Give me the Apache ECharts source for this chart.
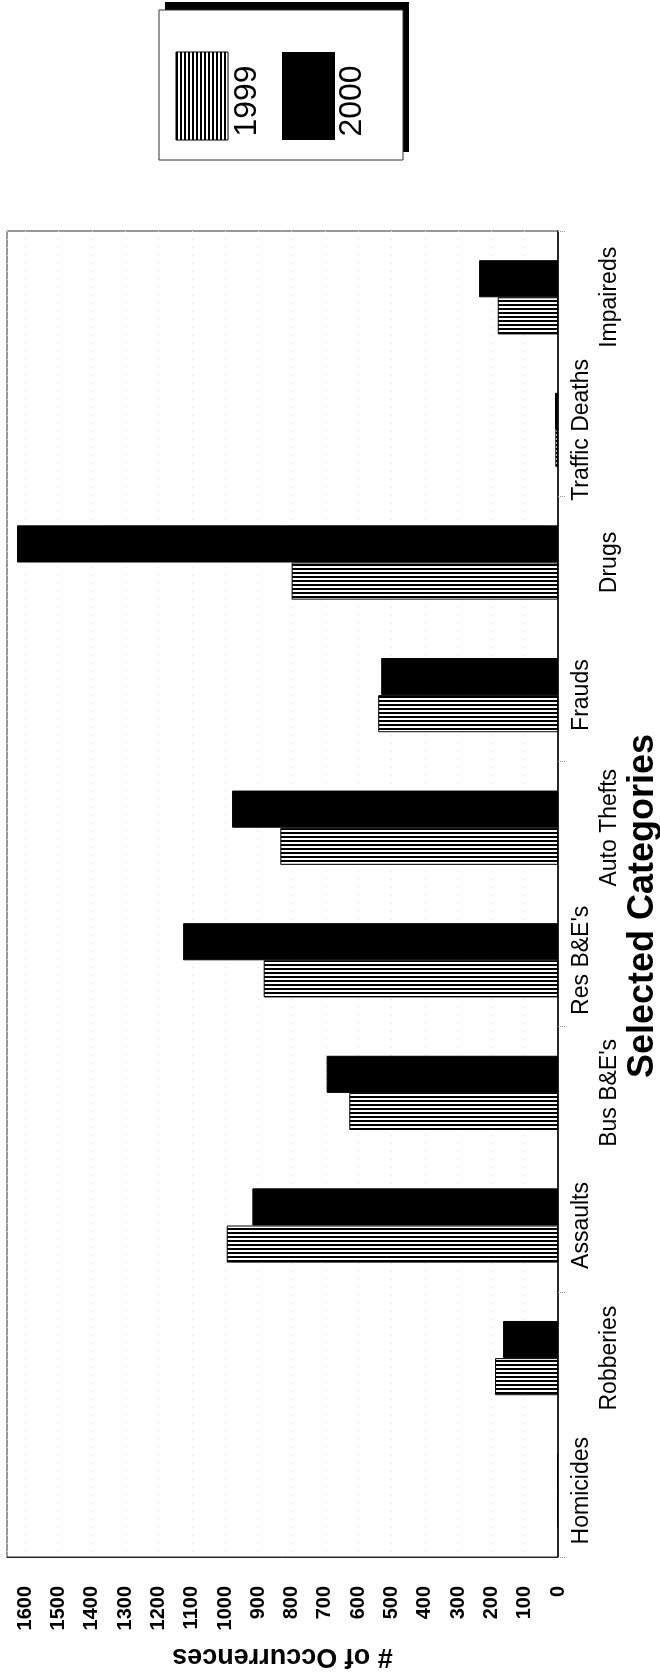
<!DOCTYPE html>
<html>
<head>
<meta charset="utf-8">
<script src="https://cdn.jsdelivr.net/npm/echarts@6/dist/echarts.min.js"></script>
<style>
html,body{margin:0;padding:0;background:#fff;}
#chart{width:660px;height:1674px;}
</style>
</head>
<body>
<div id="chart"></div>
<script>
var categories = ['Homicides', 'Robberies', 'Assaults', "Bus B&E's", "Res B&E's", 'Auto Thefts', 'Frauds', 'Drugs', 'Traffic Deaths', 'Impaireds'];
var seriesNames = ['1999', '2000'];
var values1999 = [3, 189, 995, 627, 884, 834, 540, 800, 8, 181];
var values2000 = [3, 165, 918, 695, 1126, 979, 531, 1625, 9, 237];
var valueTicks = [0, 100, 200, 300, 400, 500, 600, 700, 800, 900, 1000, 1100, 1200, 1300, 1400, 1500, 1600];

function stripes(vertical) {
  var c = document.createElement('canvas');
  c.width = 4; c.height = 4;
  var g = c.getContext('2d');
  g.fillStyle = '#fff'; g.fillRect(0, 0, 4, 4);
  g.fillStyle = '#000';
  if (vertical) g.fillRect(0, 0, 2, 4); else g.fillRect(0, 0, 4, 2);
  return c;
}
var hStripe = { image: stripes(false), repeat: 'repeat' };
var vStripe = { image: stripes(true), repeat: 'repeat' };

var FONT = '"Liberation Sans", Arial, sans-serif';
var chart = echarts.init(document.getElementById('chart'), null, { renderer: 'canvas' });

var option = {
  backgroundColor: '#fff',
  animation: false,
  grid: {
    left: 7, right: 102, top: 231, bottom: 117,
    show: true, borderColor: '#333', borderWidth: 1,
    outerBoundsMode: 'none', containLabel: false
  },
  xAxis: {
    type: 'value', inverse: true, min: 0, max: 1655, interval: 100,
    axisLine: { show: true, lineStyle: { color: '#222', width: 1 } },
    axisTick: { show: false },
    splitLine: { show: true, lineStyle: { color: '#dcdcdc', type: [1, 7], width: 1 } },
    axisLabel: {
      rotate: 90, margin: 29, fontFamily: FONT, fontSize: 20, fontWeight: 'bold', color: '#000',
      formatter: function (v) { return valueTicks.indexOf(v) >= 0 ? String(v) : ''; }
    },
    name: '# of Occurrences', nameLocation: 'middle', nameRotate: 180, nameGap: 86,
    nameTextStyle: { fontFamily: FONT, fontSize: 27, fontWeight: 'bold', color: '#000' }
  },
  yAxis: [{
    type: 'category', data: categories, position: 'right',
    axisLine: { show: true, onZero: false, lineStyle: { color: '#000', width: 1.5 } },
    axisTick: { show: true, length: 8, lineStyle: { color: '#999', type: 'dotted' } },
    splitLine: { show: false },
    axisLabel: {
      rotate: 90, margin: 12, fontFamily: FONT, fontSize: 23, color: '#000',
      interval: function (i) { return i % 2 === 0; }
    },
    name: 'Selected Categories', nameLocation: 'middle', nameRotate: 90, nameGap: 67,
    nameTextStyle: { fontFamily: FONT, fontSize: 36, fontWeight: 'bold', color: '#000', padding: [0, 24, 0, 0] }
  }, {
    type: 'category', data: categories, position: 'right',
    axisLine: { show: false }, axisTick: { show: false }, splitLine: { show: false },
    axisLabel: {
      rotate: 90, margin: 40, fontFamily: FONT, fontSize: 23, color: '#000',
      interval: function (i) { return i % 2 === 1; }
    }
  }],
  series: [{
    name: seriesNames[1], type: 'bar', data: values2000, yAxisIndex: 0,
    barGap: '0%', barCategoryGap: '44%',
    itemStyle: { color: '#000', borderColor: '#000', borderWidth: 1 }
  }, {
    name: seriesNames[0], type: 'bar', data: values1999, yAxisIndex: 0,
    barGap: '0%', barCategoryGap: '44%',
    itemStyle: { color: hStripe, borderColor: '#000', borderWidth: 1 }
  }],
  graphic: [
    { type: 'rect', shape: { x: 165, y: 2, width: 244, height: 150 }, style: { fill: '#000' } },
    { type: 'rect', shape: { x: 159, y: 10, width: 244, height: 150 }, style: { fill: '#fff', stroke: '#333', lineWidth: 1 } },
    { type: 'rect', shape: { x: 176, y: 52, width: 52, height: 88 }, style: { fill: vStripe, stroke: '#000', lineWidth: 1 } },
    { type: 'text', x: 247, y: 101, rotation: Math.PI / 2,
      style: { text: seriesNames[0], font: '32px ' + FONT, fill: '#000', textAlign: 'center', textVerticalAlign: 'middle' } },
    { type: 'rect', shape: { x: 282, y: 52, width: 53, height: 88 }, style: { fill: '#000' } },
    { type: 'text', x: 352, y: 101, rotation: Math.PI / 2,
      style: { text: seriesNames[1], font: '32px ' + FONT, fill: '#000', textAlign: 'center', textVerticalAlign: 'middle' } }
  ]
};
chart.setOption(option);
</script>
</body>
</html>
